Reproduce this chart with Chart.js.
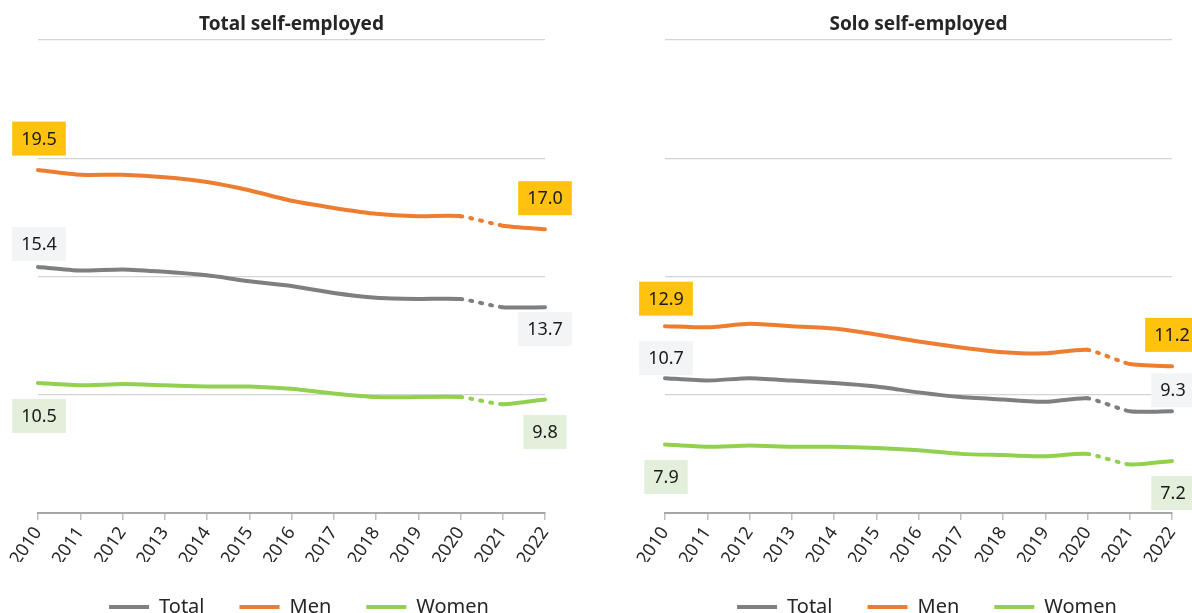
<!DOCTYPE html>
<html>
<head>
<meta charset="utf-8">
<script src="https://cdn.jsdelivr.net/npm/chart.js@4.4.1/dist/chart.umd.min.js"></script>
<style>
  html, body { margin: 0; padding: 0; background: #ffffff; }
  #wrap { position: relative; width: 1192px; height: 613px; overflow: hidden; }
  canvas { position: absolute; top: 0; }
  #c1 { left: 0; }
  #c2 { left: 596px; }
</style>
</head>
<body>
<div id="wrap">
  <canvas id="c1" width="596" height="613"></canvas>
  <canvas id="c2" width="596" height="613"></canvas>
</div>
<script>
// ---- data ----
const years = ['2010','2011','2012','2013','2014','2015','2016','2017','2018','2019','2020','2021','2022'];
const seriesNames = ['Total', 'Men', 'Women'];
const panelTitles = ['Total self-employed', 'Solo self-employed'];

const allTotal = [15.4, 15.25, 15.3, 15.2, 15.05, 14.8, 14.6, 14.3, 14.1, 14.05, 14.05, 13.7, 13.7];
const allMen   = [19.5, 19.3, 19.3, 19.2, 19.0, 18.65, 18.2, 17.9, 17.65, 17.55, 17.55, 17.15, 17.0];
const allWomen = [10.5, 10.4, 10.45, 10.4, 10.35, 10.35, 10.25, 10.05, 9.9, 9.9, 9.9, 9.6, 9.8];

const soloTotal = [10.7, 10.6, 10.7, 10.6, 10.5, 10.35, 10.1, 9.9, 9.8, 9.7, 9.85, 9.3, 9.3];
const soloMen   = [12.9, 12.85, 13.0, 12.9, 12.8, 12.55, 12.25, 12.0, 11.8, 11.75, 11.9, 11.3, 11.2];
const soloWomen = [7.9, 7.8, 7.85, 7.8, 7.8, 7.75, 7.65, 7.5, 7.45, 7.4, 7.5, 7.05, 7.2];

const yMin = 5, yMax = 25, yStep = 5;
const breakIndex = 10; // series break between 2020 and 2021 (dotted)

// ---- style ----
const FONT = '"Noto Sans", "Open Sans", sans-serif';
const lineColors = ['#7f7f7f', '#ed7d31', '#92d050'];
const boxColors  = ['#f3f4f6', '#ffc20e', '#e2efda'];

function makeDatasets(values) {
  return values.map((v, i) => ({
    label: seriesNames[i],
    data: v,
    borderColor: lineColors[i],
    backgroundColor: lineColors[i],
    borderWidth: 4,
    borderCapStyle: 'round',
    borderJoinStyle: 'round',
    pointRadius: 0,
    pointHoverRadius: 0,
    tension: 0.2,
    segment: {
      borderDash: ctx => ctx.p0DataIndex === breakIndex ? [2, 8] : undefined
    }
  }));
}

const valueLabels = {
  id: 'valueLabels',
  afterDatasetsDraw(chart, args, opts) {
    const ctx = chart.ctx;
    ctx.save();
    ctx.font = '18px ' + FONT;
    ctx.textAlign = 'center';
    ctx.textBaseline = 'middle';
    chart.data.datasets.forEach((ds, di) => {
      const meta = chart.getDatasetMeta(di);
      [['first', 0], ['last', ds.data.length - 1]].forEach(([which, idx]) => {
        const pt = meta.data[idx];
        const o = opts[which][di];
        const text = ds.data[idx].toFixed(1);
        const w = ctx.measureText(text).width + 18;
        const h = 34;
        const cx = pt.x + o[0], cy = pt.y + o[1];
        ctx.fillStyle = boxColors[di];
        ctx.fillRect(cx - w / 2, cy - h / 2, w, h);
        ctx.fillStyle = '#1a1a1a';
        ctx.fillText(text, cx, cy + 1);
      });
    });
    ctx.restore();
  }
};

function makeChart(id, title, values, cfg) {
  return new Chart(document.getElementById(id), {
    type: 'line',
    data: { labels: years, datasets: makeDatasets(values) },
    plugins: [valueLabels],
    options: {
      responsive: false,
      animation: false,
      events: [],
      layout: { padding: { left: cfg.padL, right: cfg.padR, top: 0, bottom: cfg.padB } },
      scales: {
        x: {
          type: 'category',
          offset: false,
          grid: { display: true, drawOnChartArea: false, drawTicks: true, tickLength: 7, color: '#bfbfbf', lineWidth: 1.5 },
          border: { display: true, color: '#a6a6a6', width: 2 },
          ticks: { autoSkip: false, maxRotation: 55, minRotation: 55, padding: 3, color: '#262626', font: { family: FONT, size: 18 } },
          afterFit: s => { s.height = cfg.xH; s.paddingLeft = 0; s.paddingRight = cfg.xPadR; }
        },
        y: {
          min: yMin, max: yMax,
          ticks: { display: false, stepSize: yStep },
          grid: { color: '#d4d4d4', lineWidth: 1.3, drawTicks: false },
          border: { display: false },
          afterFit: s => { s.width = cfg.yW; }
        }
      },
      plugins: {
        title: {
          display: true, text: title, fullSize: false,
          color: '#262626',
          font: { family: FONT, size: 19, weight: 'bold', lineHeight: 1.2 },
          padding: { top: 13, bottom: 4.2 }
        },
        legend: {
          display: true, position: 'bottom', fullSize: true,
          labels: {
            usePointStyle: true, pointStyle: 'line', pointStyleWidth: 40,
            padding: 35, color: '#262626', font: { family: FONT, size: 20 }
          }
        },
        tooltip: { enabled: false },
        valueLabels: cfg.labels
      }
    }
  });
}

makeChart('c1', panelTitles[0], [allTotal, allMen, allWomen], {
  padL: 2, padR: 0, padB: -14, yW: 36, xPadR: 51, xH: 49,
  labels: {
    first: [[1, -23], [1, -31.5], [1, 33]],
    last:  [[0, 22], [0, -31], [0, 32.5]]
  }
});
makeChart('c2', panelTitles[1], [soloTotal, soloMen, soloWomen], {
  padL: 66, padR: 0, padB: -14, yW: 3, xPadR: 20, xH: 49,
  labels: {
    first: [[1, -20], [1, -27.5], [1, 32.5]],
    last:  [[1, -21], [0, -31.5], [1, 32]]
  }
});
</script>
</body>
</html>
